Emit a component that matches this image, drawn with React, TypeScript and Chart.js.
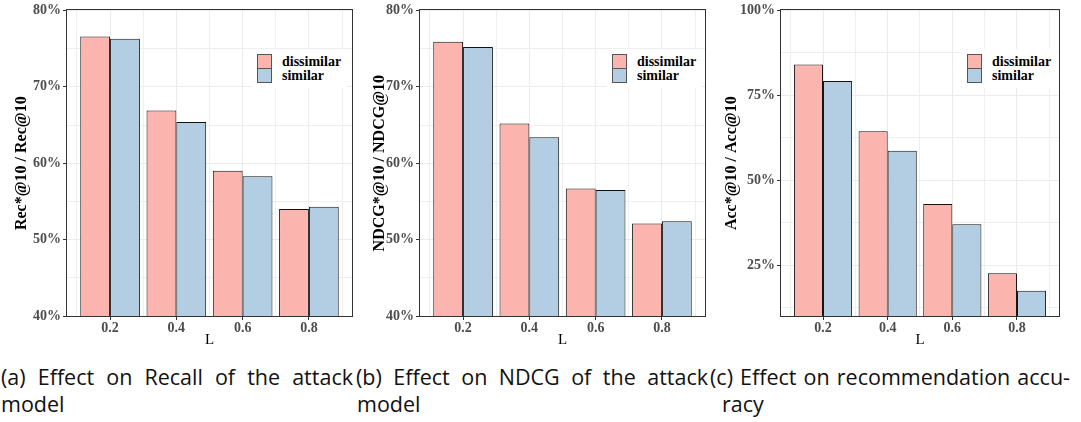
import React, { useEffect, useRef } from "react";
import { Chart, registerables } from "chart.js";

Chart.register(...registerables);

// ---------------- data ----------------
const L_VALUES = [0.2, 0.4, 0.6, 0.8];
const X_GRID_TICKS = [0.1, 0.2, 0.3, 0.4, 0.5, 0.6, 0.7, 0.8, 0.9];
const X_LABELED_TICKS = [0.2, 0.4, 0.6, 0.8];

const SERIES_NAMES = ["dissimilar", "similar"];

const recallDissimilar = [76.6, 66.9, 59.0, 54.0];
const recallSimilar = [76.3, 65.4, 58.3, 54.3];

const ndcgDissimilar = [75.9, 65.2, 56.7, 52.1];
const ndcgSimilar = [75.2, 63.4, 56.5, 52.4];

const accDissimilar = [84.1, 64.4, 43.0, 22.6];
const accSimilar = [79.2, 58.7, 37.0, 17.4];

const Y_TICKS_40_80 = [40, 45, 50, 55, 60, 65, 70, 75, 80];
const Y_LABELED_40_80 = [40, 50, 60, 70, 80];
const Y_TICKS_10_100 = [12.5, 25, 37.5, 50, 62.5, 75, 87.5, 100];
const Y_LABELED_10_100 = [25, 50, 75, 100];

const CAPTION_A = ["(a) Effect on Recall of the attack", "model"];
const CAPTION_B = ["(b) Effect on NDCG of the attack", "model"];
const CAPTION_C = ["(c) Effect on recommendation accu-", "racy"];

// ---------------- styles ----------------
const PINK = "#FBB4AE";
const BLUE = "#B3CDE3";
const GRID_MAJOR = "#EBEBEB";
const GRID_MINOR = "#EFEFEF";
const FRAME = "#333333";
const TICK_TEXT = "#4D4D4D";
const SERIF = "'Liberation Serif', 'Times New Roman', serif";
const CANVAS_H = 350;

const framePlugin = {
  id: "panelFrame",
  afterDatasetsDraw(chart: any) {
    const { ctx, chartArea: a } = chart;
    ctx.save();
    ctx.strokeStyle = FRAME;
    ctx.lineWidth = 1;
    const x0 = Math.round(a.left) - 0.5;
    const y0 = Math.round(a.top) - 0.5;
    const x1 = Math.round(a.right) + 0.5;
    const y1 = Math.round(a.bottom) + 0.5;
    ctx.strokeRect(x0, y0, x1 - x0, y1 - y0);
    ctx.restore();
  },
};

type PanelProps = {
  left: number;
  width: number;
  yAxisWidth: number;
  rightPad: number;
  titlePad: number;
  yMin: number;
  yMax: number;
  yTicks: number[];
  yLabeled: number[];
  yTitle: string;
  dissimilar: number[];
  similar: number[];
  legendLeft: number;
};

function Panel(p: PanelProps) {
  const ref = useRef<HTMLCanvasElement | null>(null);

  useEffect(() => {
    if (!ref.current) return;
    const makeData = (vals: number[]) => L_VALUES.map((x, i) => ({ x, y: vals[i] }));
    const chart = new Chart(ref.current, {
      type: "bar",
      data: {
        datasets: [
          {
            label: SERIES_NAMES[0],
            data: makeData(p.dissimilar),
            backgroundColor: PINK,
            borderColor: "#111111",
            borderWidth: 1,
            borderSkipped: "start",
            categoryPercentage: 1.8,
            barPercentage: 1,
          },
          {
            label: SERIES_NAMES[1],
            data: makeData(p.similar),
            backgroundColor: BLUE,
            borderColor: "#111111",
            borderWidth: 1,
            borderSkipped: "start",
            categoryPercentage: 1.8,
            barPercentage: 1,
          },
        ] as any,
      },
      options: {
        responsive: false,
        maintainAspectRatio: false,
        animation: false,
        layout: { padding: { left: 0, right: p.rightPad, top: 10, bottom: 0 } },
        plugins: {
          legend: { display: false },
          tooltip: { enabled: false },
          title: { display: false },
        },
        scales: {
          x: {
            type: "linear",
            offset: false,
            min: 0.07,
            max: 0.93,
            afterBuildTicks: (s: any) => {
              s.ticks = X_GRID_TICKS.map((v) => ({ value: v }));
            },
            afterFit: (s: any) => {
              s.height = 34;
            },
            ticks: {
              autoSkip: false,
              maxRotation: 0,
              padding: 0,
              color: TICK_TEXT,
              font: { family: SERIF, weight: "bold", size: 14 },
              callback: (v: any) => (X_LABELED_TICKS.includes(v) ? Number(v).toFixed(1) : ""),
            },
            grid: {
              offset: false,
              color: (c: any) => (X_LABELED_TICKS.includes(c.tick?.value) ? GRID_MAJOR : GRID_MINOR),
              lineWidth: 1,
              drawTicks: true,
              tickLength: 4,
              tickColor: (c: any) => (X_LABELED_TICKS.includes(c.tick?.value) ? FRAME : "rgba(0,0,0,0)"),
            },
            border: { display: false },
            title: {
              display: true,
              text: "L",
              color: "#000",
              font: { family: SERIF, weight: "normal", size: 15 },
              padding: { top: 0, bottom: 1 },
            },
          },
          y: {
            type: "linear",
            min: p.yMin,
            max: p.yMax,
            afterBuildTicks: (s: any) => {
              s.ticks = p.yTicks.map((v) => ({ value: v }));
            },
            afterFit: (s: any) => {
              s.width = p.yAxisWidth;
            },
            ticks: {
              autoSkip: false,
              padding: 2,
              color: TICK_TEXT,
              font: { family: SERIF, weight: "bold", size: 14 },
              callback: (v: any) => (p.yLabeled.includes(v) ? `${v}%` : ""),
            },
            grid: {
              color: (c: any) => (p.yLabeled.includes(c.tick?.value) ? GRID_MAJOR : GRID_MINOR),
              lineWidth: 1,
              drawTicks: true,
              tickLength: 4,
              tickColor: (c: any) => (p.yLabeled.includes(c.tick?.value) ? FRAME : "rgba(0,0,0,0)"),
            },
            border: { display: false },
            title: {
              display: true,
              text: p.yTitle,
              color: "#000",
              font: { family: SERIF, weight: "bold", size: 16 },
              padding: { top: p.titlePad, bottom: 0 },
            },
          },
        },
      } as any,
      plugins: [framePlugin],
    });
    return () => chart.destroy();
  }, []);

  const keyStyle = (top: number, color: string): React.CSSProperties => ({
    position: "absolute",
    left: p.legendLeft,
    top,
    width: 15,
    height: 15,
    boxSizing: "border-box",
    background: color,
    border: "1px solid #555",
  });
  const textStyle = (top: number): React.CSSProperties => ({
    position: "absolute",
    left: p.legendLeft + 25,
    top,
    height: 15,
    lineHeight: "15px",
    fontFamily: SERIF,
    fontWeight: "bold",
    fontSize: 14,
    color: "#000",
    whiteSpace: "nowrap",
  });

  return (
    <>
      <canvas
        ref={ref}
        width={p.width}
        height={CANVAS_H}
        style={{ position: "absolute", left: p.left, top: 0, width: p.width, height: CANVAS_H }}
      />
      <div
        style={{
          position: "absolute",
          left: p.legendLeft - 5.5,
          top: 48.5,
          width: 95,
          height: 39,
          background: "#fff",
        }}
      />
      <div style={keyStyle(54, PINK)} />
      <div style={keyStyle(68, BLUE)} />
      <div style={textStyle(54)}>{SERIES_NAMES[0]}</div>
      <div style={textStyle(68)}>{SERIES_NAMES[1]}</div>
    </>
  );
}

const CAP_FONT = "'Open Sans', sans-serif";

function Caption({ left, width, lines, secondLeft }: { left: number; width: number; lines: string[]; secondLeft: number }) {
  const base: React.CSSProperties = {
    position: "absolute",
    fontFamily: CAP_FONT,
    fontSize: 21.5,
    lineHeight: "25px",
    color: "#111",
    whiteSpace: "nowrap",
  };
  return (
    <>
      <div style={{ ...base, left, top: 364, width, textAlign: "justify", textAlignLast: "justify" }}>{lines[0]}</div>
      <div style={{ ...base, left: secondLeft, top: 391 }}>{lines[1]}</div>
    </>
  );
}

export default function App() {
  return (
    <div
      style={{
        position: "absolute",
        left: 0,
        top: 0,
        width: 1081,
        height: 422,
        background: "#fff",
        overflow: "hidden",
      }}
    >
      <Panel
        left={0}
        width={356}
        yAxisWidth={67}
        rightPad={4}
        titlePad={12}
        yMin={40}
        yMax={80}
        yTicks={Y_TICKS_40_80}
        yLabeled={Y_LABELED_40_80}
        yTitle="Rec*@10 / Rec@10"
        dissimilar={recallDissimilar}
        similar={recallSimilar}
        legendLeft={257}
      />
      <Panel
        left={360}
        width={350}
        yAxisWidth={60}
        rightPad={5}
        titlePad={10}
        yMin={40}
        yMax={80}
        yTicks={Y_TICKS_40_80}
        yLabeled={Y_LABELED_40_80}
        yTitle="NDCG*@10 / NDCG@10"
        dissimilar={ndcgDissimilar}
        similar={ndcgSimilar}
        legendLeft={612}
      />
      <Panel
        left={710}
        width={371}
        yAxisWidth={71}
        rightPad={22}
        titlePad={12}
        yMin={10}
        yMax={100}
        yTicks={Y_TICKS_10_100}
        yLabeled={Y_LABELED_10_100}
        yTitle="Acc*@10 / Acc@10"
        dissimilar={accDissimilar}
        similar={accSimilar}
        legendLeft={967}
      />
      <Caption left={1} width={352} lines={CAPTION_A} secondLeft={1} />
      <Caption left={356} width={352} lines={CAPTION_B} secondLeft={357} />
      <Caption left={710} width={360} lines={CAPTION_C} secondLeft={722} />
    </div>
  );
}
